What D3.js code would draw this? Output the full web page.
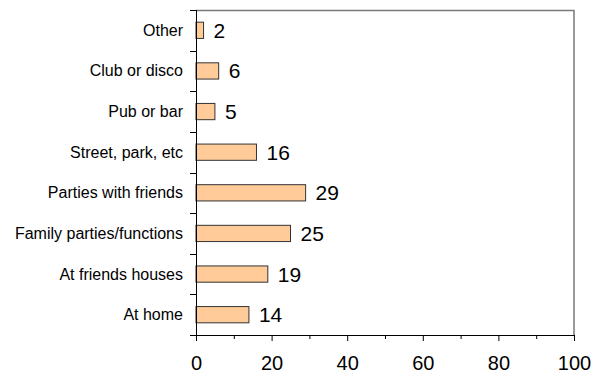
<!DOCTYPE html>
<html lang="en">

<head>
    <meta charset="UTF-8">
    <title>Drinking locations</title>
    <script src="https://d3js.org/d3.v7.min.js"></script>
    <style type="text/css">
        body {
            margin: 0;
            background: #fff;
        }

        svg text {
            font-family: "Liberation Sans", Arial, sans-serif;
            fill: #000;
        }
    </style>
</head>

<body>
    <div id="chartArea"></div>
    <script type="text/javascript">
        var categories = ['Other', 'Club or disco', 'Pub or bar', 'Street, park, etc',
            'Parties with friends', 'Family parties/functions', 'At friends houses', 'At home'];
        var values = [2, 6, 5, 16, 29, 25, 19, 14];
        var xTicks = [0, 20, 40, 60, 80, 100];
        var xMinorTicks = [10, 30, 50, 70, 90];

        var W = 601, H = 376;
        var margin = { top: 10, right: 27, bottom: 41, left: 196 };
        var w = W - margin.left - margin.right,
            h = H - margin.top - margin.bottom;

        var svg = d3.select('#chartArea').append('svg')
            .attr('width', W)
            .attr('height', H);

        var g = svg.append('g')
            .attr('transform', 'translate(' + margin.left + ',' + margin.top + ')');

        var xScale = d3.scaleLinear()
            .domain([0, 100])
            .range([0, w]);

        var yScale = d3.scaleBand()
            .domain(categories)
            .range([0, h])
            .paddingInner(0.6)
            .paddingOuter(0.3);

        // frame (top and right)
        g.append('path')
            .attr('d', 'M0,0.5H' + w + 'V' + h)
            .attr('fill', 'none')
            .attr('stroke', '#7a7a7a')
            .attr('stroke-width', 1.5);

        // bars
        g.selectAll('rect.bar')
            .data(values)
            .enter()
            .append('rect')
            .attr('class', 'bar')
            .attr('x', xScale(0))
            .attr('y', function (d, i) { return yScale(categories[i]); })
            .attr('width', function (d) { return xScale(d) - xScale(0); })
            .attr('height', yScale.bandwidth())
            .attr('fill', '#ffcc99')
            .attr('stroke', '#333')
            .attr('stroke-width', 1);

        // value labels
        g.selectAll('text.val')
            .data(values)
            .enter()
            .append('text')
            .attr('class', 'val')
            .attr('x', function (d) { return xScale(d) + 10; })
            .attr('y', function (d, i) { return yScale(categories[i]) + yScale.bandwidth() / 2; })
            .attr('dominant-baseline', 'central')
            .style('font-size', '21px')
            .text(function (d) { return d; });

        // y axis: line, ticks between bands, labels
        var step = yScale.step();
        var boundaries = d3.range(categories.length + 1).map(function (k) { return k * step; });
        g.append('line')
            .attr('x1', 0.5).attr('x2', 0.5)
            .attr('y1', 0).attr('y2', h)
            .attr('stroke', '#000');
        g.selectAll('line.ytick')
            .data(boundaries)
            .enter()
            .append('line')
            .attr('class', 'ytick')
            .attr('x1', -6).attr('x2', 0)
            .attr('y1', function (d) { return Math.round(d) + 0.5; })
            .attr('y2', function (d) { return Math.round(d) + 0.5; })
            .attr('stroke', '#000');
        g.selectAll('text.cat')
            .data(categories)
            .enter()
            .append('text')
            .attr('class', 'cat')
            .attr('x', -13)
            .attr('y', function (d) { return yScale(d) + yScale.bandwidth() / 2; })
            .attr('text-anchor', 'end')
            .attr('dominant-baseline', 'central')
            .style('font-size', '16px')
            .text(function (d) { return d; });

        // x axis
        var xAxis = g.append('g')
            .attr('transform', 'translate(0,' + h + ')')
            .call(d3.axisBottom(xScale)
                .tickValues(xTicks)
                .tickSize(6)
                .tickPadding(15)
                .tickSizeOuter(0));
        xAxis.selectAll('text')
            .style('font-size', '20px')
            .style('font-family', '"Liberation Sans", Arial, sans-serif');
        xAxis.select('.domain').attr('stroke', '#000');

        g.append('g')
            .attr('transform', 'translate(0,' + h + ')')
            .call(d3.axisBottom(xScale)
                .tickValues(xMinorTicks)
                .tickSize(4)
                .tickFormat(''))
            .select('.domain').remove();
    </script>
</body>

</html>
